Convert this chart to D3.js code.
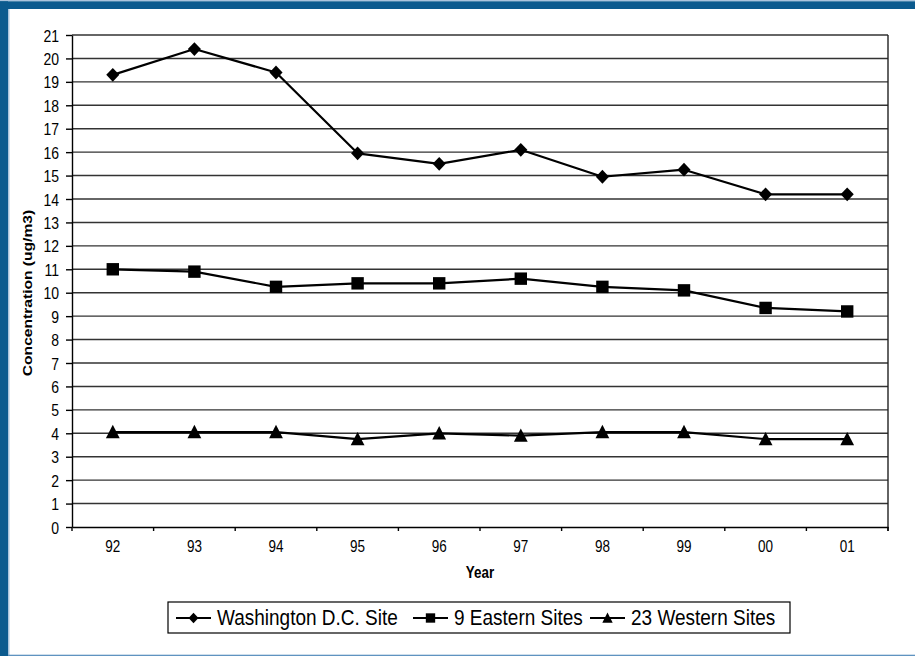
<!DOCTYPE html>
<html><head><meta charset="utf-8">
<script src="https://cdn.jsdelivr.net/npm/d3@7"></script>
<style>
body{margin:0;background:#fff}
svg{display:block}
text{font-family:"Liberation Sans",Arial,sans-serif;fill:#000}
</style>
</head><body>
<svg id="c" width="915" height="656"></svg>
<script>
// ---- data ----
const categories = ["92","93","94","95","96","97","98","99","00","01"];
const washington = [19.3, 20.4, 19.4, 15.95, 15.5, 16.1, 14.95, 15.25, 14.2, 14.2];
const eastern    = [11.0, 10.9, 10.25, 10.4, 10.4, 10.6, 10.25, 10.1, 9.35, 9.2];
const western    = [4.05, 4.05, 4.05, 3.75, 4.0, 3.9, 4.05, 4.05, 3.75, 3.75];
const yTicks = d3.range(0, 22, 1);
const seriesNames = ["Washington D.C. Site", "9 Eastern Sites", "23 Western Sites"];
const markerKinds = ["diamond", "square", "triangle"];
const xTitle = "Year";
const yTitle = "Concentration (ug/m3)";

// ---- layout ----
const W = 915, H = 656;
const L = 72, R = 888, T = 35, B = 527;
const SY = 1.2; // vertical text stretch seen in the reference

const svg = d3.select("#c");
svg.append("rect").attr("width", W).attr("height", H).attr("fill", "#fff");

// frame (blue border top + left)
svg.append("rect").attr("x", 0).attr("y", 0).attr("width", W).attr("height", 1.3).attr("fill", "#a9c3dc");
svg.append("rect").attr("x", 0).attr("y", 1.3).attr("width", W).attr("height", 7.7).attr("fill", "#0b5a8e");
svg.append("rect").attr("x", 0).attr("y", 1.3).attr("width", 8).attr("height", H).attr("fill", "#0b5a8e");
svg.append("rect").attr("x", 8).attr("y", 9).attr("width", 1.5).attr("height", H).attr("fill", "#a9c3dc");
svg.append("rect").attr("x", 8).attr("y", H - 1.3).attr("width", W).attr("height", 1.3).attr("fill", "#5f93c0");

const x = d3.scaleBand().domain(categories).range([L, R]).padding(0);
const y = d3.scaleLinear().domain([0, 21]).range([B, T]);
const cx = c => x(c) + x.bandwidth() / 2;

// gridlines
svg.append("g").selectAll("line").data(yTicks.filter(v => v > 0)).join("line")
  .attr("x1", L).attr("x2", R)
  .attr("y1", d => y(d)).attr("y2", d => y(d))
  .attr("stroke", "#333").attr("stroke-width", 1.4);

// right border
svg.append("line").attr("x1", R).attr("x2", R).attr("y1", T).attr("y2", B + 4)
  .attr("stroke", "#222").attr("stroke-width", 1.4);

// y axis
const yAxis = svg.append("g").attr("transform", `translate(${L},0)`)
  .call(d3.axisLeft(y).tickValues(yTicks).tickFormat(d3.format("d")).tickSizeInner(6).tickSizeOuter(0).tickPadding(7));
yAxis.select(".domain").attr("stroke", "#000").attr("stroke-width", 1.4);
yAxis.selectAll(".tick line").attr("stroke", "#000").attr("stroke-width", 1.4);
yAxis.selectAll(".tick text")
  .attr("font-size", 14).attr("font-family", '"Liberation Sans",Arial,sans-serif')
  .attr("dy", null).attr("y", 0)
  .attr("transform", `translate(0,${0.36 * 14 * SY}) scale(1,${SY})`);

// x axis (labels at band centres)
const xAxis = svg.append("g").attr("transform", `translate(0,${B})`)
  .call(d3.axisBottom(x).tickSizeInner(0).tickSizeOuter(0));
xAxis.select(".domain").attr("stroke", "#000").attr("stroke-width", 1.4);
xAxis.selectAll(".tick line").remove();
xAxis.selectAll(".tick text")
  .attr("font-size", 13.5).attr("font-family", '"Liberation Sans",Arial,sans-serif')
  .attr("dy", null).attr("y", 0)
  .attr("transform", `translate(0,25) scale(1,${SY})`);
// boundary tick marks
svg.append("g").selectAll("line").data(categories.map(c => x(c)).concat([x.range()[1]])).join("line")
  .attr("x1", d => d).attr("x2", d => d).attr("y1", B).attr("y2", B + 4)
  .attr("stroke", "#000").attr("stroke-width", 1.4);

// axis titles
svg.append("text").attr("text-anchor", "middle").attr("font-weight", "bold").attr("font-size", 13.4)
  .attr("transform", `translate(${(L + R) / 2},578) scale(1,1.25)`).text(xTitle);
svg.append("text").attr("text-anchor", "middle").attr("font-weight", "bold").attr("font-size", 12.5)
  .attr("transform", `translate(32,293) rotate(-90) scale(1.25,1)`).text(yTitle);

// marker shapes
function markerPath(kind, s) {
  if (kind === "diamond") return `M0,${-s}L${s * 0.95},0L0,${s}L${-s * 0.95},0Z`;
  if (kind === "square") return `M${-s * 0.9},${-s * 0.9}H${s * 0.9}V${s * 0.9}H${-s * 0.9}Z`;
  return `M0,${-s * 1.05}L${s},${s * 0.9}L${-s},${s * 0.9}Z`;
}

const series = [washington, eastern, western];
const line = d3.line().x((d, i) => cx(categories[i])).y(d => y(d));

series.forEach((vals, si) => {
  svg.append("path").datum(vals).attr("d", line)
    .attr("fill", "none").attr("stroke", "#000").attr("stroke-width", 2.2).attr("stroke-linejoin", "round");
  svg.append("g").selectAll("path").data(vals).join("path")
    .attr("transform", (d, i) => `translate(${cx(categories[i])},${y(d)})`)
    .attr("d", markerPath(markerKinds[si], 6.9))
    .attr("fill", "#000");
});

// legend
const lg = svg.append("g");
lg.append("rect").attr("x", 168).attr("y", 602).attr("width", 622).attr("height", 31)
  .attr("fill", "#fff").attr("stroke", "#000").attr("stroke-width", 1.2);
const legendX = [176, 413, 590];
seriesNames.forEach((name, si) => {
  const x0 = legendX[si];
  lg.append("line").attr("x1", x0).attr("x2", x0 + 35).attr("y1", 618).attr("y2", 618)
    .attr("stroke", "#000").attr("stroke-width", 2.2);
  lg.append("path").attr("transform", `translate(${x0 + 17.5},618)`)
    .attr("d", markerPath(markerKinds[si], 5.2)).attr("fill", "#000");
  lg.append("text").attr("font-size", 19)
    .attr("transform", `translate(${x0 + 41},625) scale(1,${SY})`).text(name);
});
</script>
</body></html>
